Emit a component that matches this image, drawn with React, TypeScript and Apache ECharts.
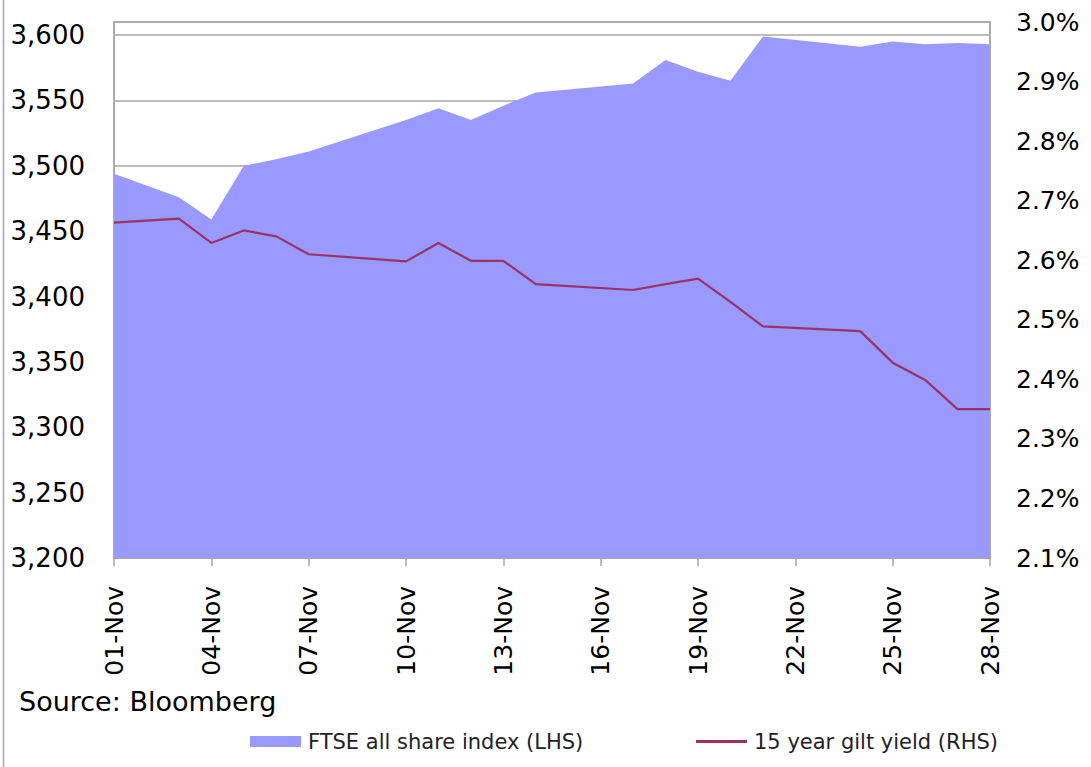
import React, { useEffect, useRef } from 'react';
import * as echarts from 'echarts';

const categories = [
  '01-Nov', '02-Nov', '03-Nov', '04-Nov', '05-Nov', '06-Nov', '07-Nov',
  '08-Nov', '09-Nov', '10-Nov', '11-Nov', '12-Nov', '13-Nov', '14-Nov',
  '15-Nov', '16-Nov', '17-Nov', '18-Nov', '19-Nov', '20-Nov', '21-Nov',
  '22-Nov', '23-Nov', '24-Nov', '25-Nov', '26-Nov', '27-Nov', '28-Nov',
];

const tradeDates = [
  '01-Nov', '03-Nov', '04-Nov', '05-Nov', '06-Nov', '07-Nov', '10-Nov',
  '11-Nov', '12-Nov', '13-Nov', '14-Nov', '17-Nov', '18-Nov', '19-Nov',
  '20-Nov', '21-Nov', '24-Nov', '25-Nov', '26-Nov', '27-Nov', '28-Nov',
];

const ftseIndex = [
  3494, 3476, 3459, 3500, 3505, 3511, 3535,
  3544, 3535, 3546, 3556, 3563, 3581, 3572,
  3565, 3599, 3591, 3595, 3593, 3594, 3593,
];

const giltYield = [
  2.663, 2.670, 2.629, 2.650, 2.640, 2.610, 2.598,
  2.629, 2.599, 2.599, 2.560, 2.550, 2.560, 2.569,
  2.530, 2.489, 2.481, 2.428, 2.399, 2.350, 2.350,
];

const leftTicks = { min: 3200, max: 3610, step: 50 };
const rightTicks = { min: 2.1, max: 3.0, step: 0.1 };

const FONT = 'DejaVu Sans';
const GRID_GRAY = '#A6A6A6';
const FTSE_COLOR = '#9999FF';
const GILT_COLOR = '#993366';

export default function App() {
  const ref = useRef<HTMLDivElement>(null);

  useEffect(() => {
    document.body.style.margin = '0';
    const chart = echarts.init(ref.current!, null, { renderer: 'svg' });
    chart.setOption({
      animation: false,
      textStyle: { fontFamily: FONT },
      grid: {
        left: 114,
        right: 101,
        top: 22,
        bottom: 209,
        show: true,
        borderColor: GRID_GRAY,
        borderWidth: 1.5,
      },
      xAxis: {
        type: 'category',
        data: categories,
        boundaryGap: false,
        axisLine: { lineStyle: { color: GRID_GRAY, width: 1.5 } },
        axisTick: { show: true, interval: 2, length: 8, lineStyle: { color: GRID_GRAY, width: 1.5 } },
        axisLabel: {
          interval: 2,
          rotate: 90,
          margin: 28,
          fontSize: 25,
          color: '#000',
          fontFamily: FONT,
        },
        splitLine: { show: false },
      },
      yAxis: [
        {
          type: 'value',
          min: leftTicks.min,
          max: leftTicks.max,
          interval: leftTicks.step,
          axisLine: { show: true, lineStyle: { color: GRID_GRAY, width: 1.5 } },
          axisTick: { show: false },
          axisLabel: {
            fontSize: 26,
            margin: 29,
            color: '#000',
            fontFamily: FONT,
            formatter: (v: number) => (v > 3600 ? '' : v.toLocaleString('en-US')),
          },
          splitLine: { show: true, lineStyle: { color: GRID_GRAY, width: 1.5 } },
        },
        {
          type: 'value',
          position: 'right',
          min: rightTicks.min,
          max: rightTicks.max,
          interval: rightTicks.step,
          axisLine: { show: true, lineStyle: { color: GRID_GRAY, width: 1.5 } },
          axisTick: { show: false },
          axisLabel: {
            fontSize: 25,
            margin: 26,
            color: '#000',
            fontFamily: FONT,
            formatter: (v: number) => v.toFixed(1) + '%',
          },
          splitLine: { show: false },
        },
      ],
      legend: [
        {
          data: [{ name: 'FTSE all share index (LHS)', icon: 'rect', itemStyle: { color: FTSE_COLOR } }],
          left: 245,
          top: 726,
          itemWidth: 51,
          itemHeight: 11,
          textStyle: { fontSize: 21, color: '#222', fontFamily: FONT, padding: [0, 0, 0, 2] },
        },
        {
          data: [{ name: '15 year gilt yield (RHS)', icon: 'rect', itemStyle: { color: GILT_COLOR } }],
          left: 691,
          top: 726,
          itemWidth: 51,
          itemHeight: 3,
          textStyle: { fontSize: 21, color: '#222', fontFamily: FONT, padding: [0, 0, 0, 2] },
        },
      ],
      graphic: [
        {
          type: 'text',
          left: 19,
          top: 688,
          style: { text: 'Source: Bloomberg', fontSize: 27, fontFamily: FONT, fill: '#000' },
        },
        {
          type: 'line',
          shape: { x1: 3.5, y1: 0, x2: 3.5, y2: 767 },
          style: { stroke: GRID_GRAY, lineWidth: 1.5 },
        },
      ],
      series: [
        {
          name: 'FTSE all share index (LHS)',
          type: 'line',
          data: tradeDates.map((d, i) => [d, ftseIndex[i]]),
          symbol: 'none',
          lineStyle: { width: 0, color: FTSE_COLOR },
          itemStyle: { color: FTSE_COLOR },
          areaStyle: { color: FTSE_COLOR, opacity: 1 },
          z: 2,
        },
        {
          name: '15 year gilt yield (RHS)',
          type: 'line',
          yAxisIndex: 1,
          data: tradeDates.map((d, i) => [d, giltYield[i]]),
          symbol: 'none',
          lineStyle: { width: 2.2, color: GILT_COLOR },
          itemStyle: { color: GILT_COLOR },
          z: 3,
        },
      ],
    });
    return () => chart.dispose();
  }, []);

  return <div ref={ref} style={{ width: 1091, height: 767 }} />;
}
